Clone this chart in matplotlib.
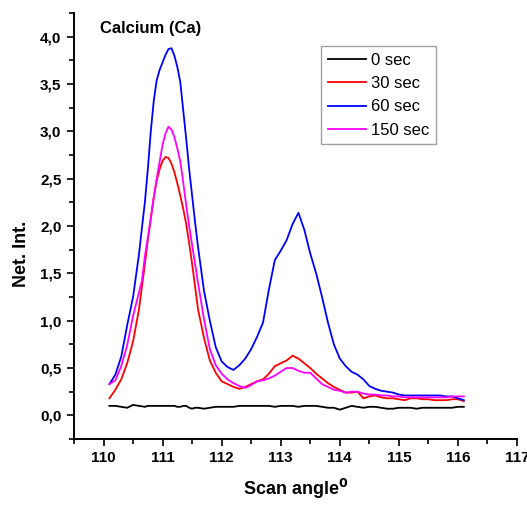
import numpy as np
import matplotlib
matplotlib.use("Agg")
import matplotlib.pyplot as plt
from matplotlib.ticker import MultipleLocator, FuncFormatter

plt.rcParams['font.family'] = ['Liberation Sans', 'DejaVu Sans']

# Scan angle grid: 0.1 deg step, finer (0.05) around the main peak
angle = np.round(np.concatenate([
    np.arange(110.1, 110.61, 0.1),
    np.arange(110.65, 111.56, 0.05),
    np.arange(111.6, 116.11, 0.1),
]), 2)

sec_0 = [
    0.10, 0.10, 0.09, 0.08, 0.11, 0.10,
    0.095, 0.09, 0.10, 0.10, 0.10, 0.10, 0.10, 0.10, 0.10, 0.10,
    0.10, 0.10, 0.09, 0.09, 0.10, 0.10, 0.08, 0.07, 0.08,
    0.08, 0.07, 0.08, 0.09,
    0.09, 0.09, 0.09, 0.10, 0.10, 0.10, 0.10, 0.10, 0.10, 0.09,
    0.10, 0.10, 0.10, 0.09, 0.10, 0.10, 0.10, 0.09, 0.08, 0.08,
    0.06, 0.08, 0.10, 0.09, 0.08, 0.09, 0.09, 0.08, 0.07, 0.07,
    0.08, 0.08, 0.08, 0.07, 0.08, 0.08, 0.08, 0.08, 0.08, 0.08,
    0.09, 0.09,
]
sec_30 = [
    0.18, 0.27, 0.38, 0.55, 0.78, 1.12,
    1.36, 1.60, 1.85, 2.08, 2.30, 2.48, 2.60, 2.69, 2.73, 2.72,
    2.66, 2.57, 2.45, 2.32, 2.18, 2.02, 1.82, 1.60, 1.36,
    1.12, 0.82, 0.58, 0.45,
    0.36, 0.33, 0.30, 0.28, 0.30, 0.33, 0.36, 0.38, 0.44, 0.52,
    0.55, 0.58, 0.63, 0.60, 0.55, 0.50, 0.44, 0.39, 0.34, 0.30,
    0.27, 0.24, 0.24, 0.25, 0.18, 0.20, 0.21, 0.19, 0.18, 0.18,
    0.17, 0.16, 0.18, 0.18, 0.17, 0.17, 0.16, 0.16, 0.16, 0.17,
    0.17, 0.15,
]
sec_60 = [
    0.33, 0.43, 0.62, 0.95, 1.25, 1.70,
    1.98, 2.25, 2.60, 3.00, 3.32, 3.54, 3.65, 3.73, 3.81, 3.87,
    3.88, 3.80, 3.68, 3.52, 3.22, 2.92, 2.60, 2.32, 2.04,
    1.78, 1.32, 1.00, 0.72,
    0.57, 0.51, 0.48, 0.53, 0.60, 0.70, 0.83, 0.98, 1.33, 1.64,
    1.74, 1.85, 2.02, 2.14, 1.96, 1.71, 1.50, 1.25, 0.98, 0.75,
    0.60, 0.52, 0.46, 0.43, 0.38, 0.31, 0.28, 0.26, 0.25, 0.24,
    0.22, 0.21, 0.21, 0.21, 0.21, 0.21, 0.21, 0.21, 0.20, 0.20,
    0.18, 0.16,
]
sec_150 = [
    0.33, 0.37, 0.52, 0.74, 1.05, 1.30,
    1.42, 1.68, 1.88, 2.08, 2.30, 2.50, 2.68, 2.86, 2.98, 3.05,
    3.02, 2.94, 2.82, 2.68, 2.46, 2.22, 2.00, 1.80, 1.60,
    1.40, 1.02, 0.70, 0.53,
    0.44, 0.38, 0.34, 0.31, 0.29, 0.32, 0.36, 0.37, 0.39, 0.42,
    0.46, 0.50, 0.50, 0.47, 0.45, 0.45, 0.39, 0.33, 0.30, 0.27,
    0.26, 0.24, 0.25, 0.25, 0.23, 0.22, 0.22, 0.21, 0.21, 0.20,
    0.20, 0.19, 0.19, 0.19, 0.19, 0.19, 0.19, 0.19, 0.19, 0.20,
    0.20, 0.20,
]

labels = ["0 sec", "30 sec", "60 sec", "150 sec"]
colors = ["black", "#ff0000", "#0000ff", "#ff00ff"]

fig = plt.figure(figsize=(5.27, 5.05), dpi=100)
ax = fig.add_axes([0.1404, 0.1307, 0.8406, 0.8433])

for y, lab, c in zip([sec_0, sec_30, sec_60, sec_150], labels, colors):
    ax.plot(angle, y, color=c, lw=1.3, label=lab, solid_joinstyle="round")

ax.set_xlim(109.5, 117)
ax.set_ylim(-0.25, 4.25)

ax.xaxis.set_major_locator(MultipleLocator(1))
ax.xaxis.set_minor_locator(MultipleLocator(0.5))
ax.yaxis.set_major_locator(MultipleLocator(0.5))
ax.yaxis.set_minor_locator(MultipleLocator(0.25))
ax.yaxis.set_major_formatter(FuncFormatter(lambda v, p: f"{v:.1f}".replace(".", ",")))

ax.spines["top"].set_visible(False)
ax.spines["right"].set_visible(False)
for s in ["left", "bottom"]:
    ax.spines[s].set_linewidth(1.4)

ax.tick_params(which="both", direction="out", width=1.2)
ax.tick_params(which="major", length=5, labelsize=11, pad=4)
ax.tick_params(which="minor", length=3.5)
for t in ax.get_xticklabels() + ax.get_yticklabels():
    t.set_fontweight("bold")

ax.set_xlabel(r"Scan angle$^\mathbf{0}$", fontsize=13, fontweight="bold", labelpad=8)
ax.set_ylabel("Net. Int.", fontsize=13, fontweight="bold")
ax.yaxis.set_label_coords(-0.1, 0.434)

ax.text(0.059, 0.965, "Calcium (Ca)", transform=ax.transAxes, fontsize=12,
        fontweight="bold", va="center", ha="left")

leg = ax.legend(loc="upper left", bbox_to_anchor=(0.5576, 0.9225), fontsize=12,
                frameon=True, fancybox=False, handlelength=2.3, handletextpad=0.3,
                borderpad=0.4, labelspacing=0.5, borderaxespad=0)
leg.get_frame().set_edgecolor("#888888")
leg.get_frame().set_linewidth(1.0)

fig.savefig("out.png", dpi=100)
